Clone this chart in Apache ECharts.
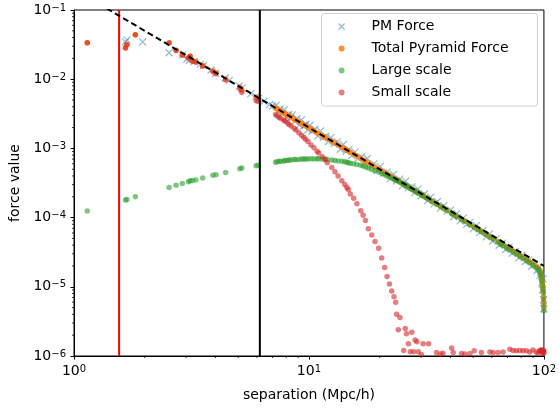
<!DOCTYPE html>
<html>
<head>
<meta charset="utf-8">
<script src="https://cdn.jsdelivr.net/npm/echarts@6/dist/echarts.min.js"></script>
<style>
  html, body { margin: 0; padding: 0; background: #fff; }
  #chart { width: 559px; height: 412px; }
</style>
</head>
<body>
<div id="chart"></div>
<script>
// Pair separations (Mpc/h) and the pyramid force split into large/small scale parts
const pyrSep = [
  1.139, 1.656, 1.68, 1.825, 2.54, 2.72, 2.89, 3.07, 3.12, 3.19,
  3.30, 3.53, 3.90, 4.02, 4.42, 5.08, 5.18, 5.96, 6.08,
  7.21, 7.33, 7.47, 7.6, 7.83, 7.9, 8.1, 8.22, 8.4, 8.65,
  8.8, 9.06, 9.3, 9.5, 9.68, 9.9, 10.2, 10.5, 10.83, 11.0,
  11.4, 11.7, 11.96, 12.5, 12.9, 13.3, 13.8, 14.2, 14.5, 14.7,
  15.0, 15.5, 16.0, 16.6, 17.0, 17.4, 17.9, 18.5, 19.1, 19.8,
  20.4, 21.0, 21.5, 22.0, 22.5, 23.0, 23.4, 23.6, 24.0, 24.4,
  25.0, 25.3, 25.7, 26.0, 26.5, 27.0, 27.4, 27.9, 28.3, 28.8,
  29.2, 30.1, 30.6, 31.5, 32.3, 33.5, 34.9, 36.3, 37.2, 38.5,
  40.5, 41.1, 42.5, 44.6, 46.1, 48.4, 50.5, 52.5, 54.2, 56.5,
  58.9, 60.8, 63.8, 65.5, 67.0, 69.5, 71.6, 73.9, 76.3, 78.9,
  81.5, 84.2, 87.0, 89.8, 92.8, 94.5, 95.9, 96.6, 97.4, 97.9,
  98.5, 98.9, 99.3, 99.6, 99.8, 99.95
];
const totalForce = [
  0.0336, 0.0285, 0.0317, 0.0440, 0.0336, 0.0263, 0.0224, 0.0205, 0.0216, 0.0184,
  0.0180, 0.0158, 0.0132, 0.0124, 0.0101, 0.0077, 0.0069, 0.0055, 0.0054,
  3.80e-3, 3.70e-3, 3.56e-3, 3.45e-3, 3.24e-3, 3.18e-3, 3.04e-3, 2.93e-3, 2.80e-3, 2.64e-3,
  2.55e-3, 2.42e-3, 2.29e-3, 2.20e-3, 2.11e-3, 2.02e-3, 1.90e-3, 1.80e-3, 1.69e-3, 1.63e-3,
  1.52e-3, 1.45e-3, 1.38e-3, 1.27e-3, 1.19e-3, 1.12e-3, 1.04e-3, 9.8e-4, 9.4e-4, 9.15e-4,
  8.8e-4, 8.2e-4, 7.7e-4, 7.15e-4, 6.8e-4, 6.5e-4, 6.15e-4, 5.75e-4, 5.4e-4, 5.0e-4,
  4.72e-4, 4.45e-4, 4.25e-4, 4.05e-4, 3.88e-4, 3.7e-4, 3.58e-4, 3.52e-4, 3.4e-4, 3.3e-4,
  3.13e-4, 3.05e-4, 2.96e-4, 2.89e-4, 2.78e-4, 2.68e-4, 2.6e-4, 2.5e-4, 2.44e-4, 2.35e-4,
  2.29e-4, 2.15e-4, 2.08e-4, 1.96e-4, 1.86e-4, 1.72e-4, 1.58e-4, 1.46e-4, 1.39e-4, 1.29e-4,
  1.16e-4, 1.12e-4, 1.05e-4, 9.5e-5, 8.9e-5, 8.0e-5, 7.35e-5, 6.8e-5, 6.35e-5, 5.8e-5,
  5.35e-5, 5.0e-5, 4.5e-5, 4.25e-5, 4.05e-5, 3.75e-5, 3.5e-5, 3.28e-5, 3.05e-5, 2.85e-5,
  2.65e-5, 2.48e-5, 2.3e-5, 2.15e-5, 1.98e-5, 1.88e-5, 1.75e-5, 1.6e-5, 1.45e-5, 1.3e-5,
  1.15e-5, 1.0e-5, 8.8e-6, 7.2e-6, 6.0e-6, 5.0e-6
];
const largeForce = [
  1.25e-4, 1.80e-4, 1.82e-4, 2.00e-4, 2.73e-4, 2.94e-4, 3.11e-4, 3.30e-4, 3.40e-4, 3.45e-4,
  3.50e-4, 3.75e-4, 4.10e-4, 4.15e-4, 4.50e-4, 5.10e-4, 5.20e-4, 5.60e-4, 5.70e-4,
  6.3e-4, 6.4e-4, 6.5e-4, 6.5e-4, 6.6e-4, 6.7e-4, 6.7e-4, 6.8e-4, 6.8e-4, 6.9e-4,
  6.9e-4, 6.9e-4, 7.0e-4, 7.0e-4, 7.0e-4, 7.0e-4, 7.1e-4, 7.0e-4, 7.1e-4, 7.1e-4,
  7.0e-4, 7.0e-4, 6.9e-4, 6.8e-4, 6.7e-4, 6.6e-4, 6.5e-4, 6.4e-4, 6.3e-4, 6.2e-4,
  6.1e-4, 6.0e-4, 5.85e-4, 5.7e-4, 5.55e-4, 5.4e-4, 5.2e-4, 4.95e-4, 4.75e-4, 4.55e-4,
  4.35e-4, 4.15e-4, 4.0e-4, 3.85e-4, 3.75e-4, 3.6e-4, 3.5e-4, 3.45e-4, 3.35e-4, 3.25e-4,
  3.1e-4, 3.02e-4, 2.93e-4, 2.86e-4, 2.76e-4, 2.66e-4, 2.57e-4, 2.48e-4, 2.42e-4, 2.33e-4,
  2.27e-4, 2.13e-4, 2.06e-4, 1.94e-4, 1.84e-4, 1.70e-4, 1.56e-4, 1.45e-4, 1.38e-4, 1.28e-4,
  1.15e-4, 1.11e-4, 1.04e-4, 9.4e-5, 8.8e-5, 7.9e-5, 7.25e-5, 6.7e-5, 6.25e-5, 5.7e-5,
  5.25e-5, 4.9e-5, 4.4e-5, 4.15e-5, 3.95e-5, 3.65e-5, 3.42e-5, 3.2e-5, 2.98e-5, 2.78e-5,
  2.58e-5, 2.4e-5, 2.22e-5, 2.07e-5, 1.9e-5, 1.8e-5, 1.68e-5, 1.52e-5, 1.38e-5, 1.22e-5,
  1.08e-5, 9.4e-6, 8.2e-6, 6.6e-6, 5.4e-6, 4.5e-6
];
const smallForce = [
  0.0335, 0.0283, 0.0315, 0.0438, 0.0333, 0.0260, 0.0221, 0.0202, 0.0213, 0.0181,
  0.0176, 0.0154, 0.0128, 0.0120, 0.0097, 0.0072, 0.0064, 0.0049, 0.0048,
  3.1e-3, 2.95e-3, 2.8e-3, 2.7e-3, 2.55e-3, 2.48e-3, 2.35e-3, 2.22e-3, 2.1e-3, 1.95e-3,
  1.85e-3, 1.68e-3, 1.55e-3, 1.45e-3, 1.36e-3, 1.26e-3, 1.12e-3, 1.02e-3, 9.1e-4, 8.6e-4,
  7.6e-4, 6.9e-4, 6.2e-4, 5.3e-4, 4.6e-4, 4.0e-4, 3.4e-4, 3.0e-4, 2.73e-4, 2.55e-4,
  2.2e-4, 1.9e-4, 1.58e-4, 1.26e-4, 1.08e-4, 9.1e-5, 6.9e-5, 5.6e-5, 4.5e-5, 3.6e-5,
  2.6e-5, 1.9e-5, 1.41e-5, 1.1e-5, 8.7e-6, 7.2e-6, 6.0e-6, 4.0e-6, 2.4e-6, 3.6e-6,
  8e-7, 1.2e-6, 2.5e-6, 2.1e-6, 1.5e-6, 1.15e-6, 2.2e-6, 1.15e-6, 1.7e-6, 1.6e-6,
  1.15e-6, 1.05e-6, 1.5e-6, 7e-7, 1.5e-6, 9e-7, 1.12e-6, 1.07e-6, 1.1e-6, 8e-7,
  1.3e-6, 1.12e-6, 9e-7, 1.09e-6, 1.07e-6, 1.09e-6, 1.19e-6, 9e-7, 1.12e-6, 8e-7,
  1.14e-6, 1.12e-6, 1.12e-6, 9e-7, 1.14e-6, 9e-7, 1.25e-6, 1.2e-6, 1.19e-6, 1.2e-6,
  1.19e-6, 1.19e-6, 1.14e-6, 1.22e-6, 1.14e-6, 1.1e-6, 1.19e-6, 1.2e-6, 1.23e-6, 1.15e-6,
  1.2e-6, 1.1e-6, 1.18e-6, 1.15e-6, 1.2e-6, 1.1e-6
];

// Particle-mesh reference force
const pmSep = [
  1.656, 1.68, 1.96, 2.54, 2.90, 3.02, 3.10, 3.25, 3.45, 3.55,
  3.83, 4.01, 4.40, 4.58, 5.05, 5.20, 5.66, 5.95, 6.10, 6.44,
  6.80, 7.0,
  7.25, 7.4, 7.55, 7.7, 7.85, 8.0, 8.2, 8.35, 8.5, 8.7,
  8.9, 9.1, 9.3, 9.5, 9.7, 9.9, 10.1, 10.3, 10.6, 10.9,
  11.2, 11.5, 11.8, 12.1, 12.4, 12.8, 13.2, 13.6, 14.0, 14.4,
  14.8, 15.2, 15.7, 16.2, 16.7, 17.2, 17.7, 18.3, 18.9, 19.5,
  20.1, 20.8, 21.5, 22.2, 22.9, 23.6, 24.3, 25.0, 25.8, 26.6,
  27.4, 28.2, 29.1, 30.0, 31.0, 32.0, 33.0, 34.1, 35.2, 36.3,
  37.5, 38.7, 40.0, 41.3, 42.6, 44.0, 45.4, 46.9, 48.4, 50.0,
  51.6, 53.3, 55.0, 56.8, 58.6, 60.5, 62.5, 64.5, 66.6, 68.8,
  71.0, 73.3, 75.7, 78.1, 80.6, 83.2, 85.9, 88.7, 91.5, 93.5,
  95.0, 96.2, 97.2, 98.0, 98.7, 99.2, 99.6, 99.9
];
const pmForce = [
  0.0347, 0.0370, 0.0347, 0.0241, 0.0225, 0.0194, 0.0188, 0.0180, 0.0165, 0.0158,
  0.0136, 0.0121, 0.0104, 0.0096, 0.0080, 0.0075, 0.0062, 0.0056, 0.0053, 0.0048,
  0.0043, 0.0041,
  4.19e-3, 3.36e-3, 3.72e-3, 3.20e-3, 3.64e-3, 2.81e-3, 3.09e-3, 2.75e-3, 3.05e-3, 2.46e-3,
  2.70e-3, 2.17e-3, 2.59e-3, 2.11e-3, 2.23e-3, 1.86e-3, 2.16e-3, 1.77e-3, 1.89e-3, 1.52e-3,
  1.79e-3, 1.44e-3, 1.49e-3, 1.26e-3, 1.43e-3, 1.17e-3, 1.24e-3, 9.73e-4, 1.14e-3, 9.07e-4,
  9.68e-4, 7.88e-4, 8.93e-4, 7.24e-4, 7.53e-4, 6.08e-4, 7.15e-4, 5.55e-4, 5.99e-4, 4.84e-4,
  5.45e-4, 4.39e-4, 4.54e-4, 3.65e-4, 4.20e-4, 3.38e-4, 3.59e-4, 2.88e-4, 3.37e-4, 2.69e-4,
  2.77e-4, 2.29e-4, 2.60e-4, 2.07e-4, 2.19e-4, 1.76e-4, 1.98e-4, 1.58e-4, 1.71e-4, 1.37e-4,
  1.49e-4, 1.24e-4, 1.28e-4, 1.03e-4, 1.15e-4, 8.99e-5, 9.90e-5, 8.00e-5, 8.54e-5, 6.88e-5,
  7.66e-5, 6.12e-5, 6.48e-5, 5.27e-5, 5.82e-5, 4.59e-5, 4.92e-5, 3.99e-5, 4.28e-5, 3.46e-5,
  3.73e-5, 3.05e-5, 3.25e-5, 2.62e-5, 2.83e-5, 2.31e-5, 2.44e-5, 1.98e-5, 2.10e-5, 1.72e-5,
  1.88e-5, 1.45e-5, 1.6e-5, 1.15e-5, 9.0e-6, 1.3e-5, 6.5e-6, 4.8e-6
];

// Inverse-square guide: force = 0.2 / r^2, drawn between its end points
const guideSep = [1, 100];
const guideForce = [0.2, 2e-5];

// Softening length and long/short range split radius
const softeningSep = 1.556;
const splitSep = 6.18;

const X_RANGE = [1, 100];
const Y_RANGE = [1e-6, 1e-1];
const MINOR_MANTISSAS = [2, 3, 4, 5, 6, 7, 8, 9];
const X_DECADES = [1, 10];
const Y_DECADES = [1e-6, 1e-5, 1e-4, 1e-3, 1e-2];

const FONT = 'DejaVu Sans';
const crossSymbol = 'path://M0,0L10,10M10,0L0,10';

function pairs(xs, ys) { return xs.map(function (x, i) { return [x, ys[i]]; }); }
function minorTicks(decades) {
  const out = [];
  decades.forEach(function (d) { MINOR_MANTISSAS.forEach(function (m) { out.push(m * d); }); });
  return out;
}
const xMinor = minorTicks(X_DECADES);
const yMinor = minorTicks(Y_DECADES);

function powerLabel(v) {
  const e = Math.round(Math.log10(v));
  const exp = e < 0 ? '\u2212' + (-e) : String(e);
  return '{b|10}{s|' + exp + '}';
}
const labelRich = {
  b: { fontFamily: FONT, fontSize: 14, color: '#000', lineHeight: 14, padding: [3, 0, 0, 0], verticalAlign: 'bottom' },
  s: { fontFamily: FONT, fontSize: 10, color: '#000', lineHeight: 10, verticalAlign: 'top' }
};

const chart = echarts.init(document.getElementById('chart'), null, { renderer: 'canvas' });

chart.setOption({
  animation: false,
  backgroundColor: '#fff',
  grid: {
    left: 74, right: 13, top: 5, bottom: 56,
    show: true, borderColor: '#000', borderWidth: 1, backgroundColor: 'transparent'
  },
  xAxis: {
    type: 'log', logBase: 10, min: X_RANGE[0], max: X_RANGE[1], interval: 1,
    name: 'separation (Mpc/h)', nameLocation: 'middle', nameGap: 32,
    nameTextStyle: { fontFamily: FONT, fontSize: 14, color: '#000' },
    axisLine: { show: true, onZero: false, lineStyle: { color: '#000', width: 1 } },
    axisTick: { show: true, inside: false, length: 3.5, lineStyle: { color: '#000', width: 1 } },
    axisLabel: { margin: 8, formatter: powerLabel, rich: labelRich },
    splitLine: { show: false }
  },
  yAxis: {
    type: 'log', logBase: 10, min: Y_RANGE[0], max: Y_RANGE[1], interval: 1,
    name: 'force value', nameLocation: 'middle', nameGap: 52,
    nameTextStyle: { fontFamily: FONT, fontSize: 14, color: '#000' },
    axisLine: { show: true, onZero: false, lineStyle: { color: '#000', width: 1 } },
    axisTick: { show: true, inside: false, length: 3.5, lineStyle: { color: '#000', width: 1 } },
    axisLabel: { margin: 8, formatter: powerLabel, rich: labelRich },
    splitLine: { show: false }
  },
  legend: {
    data: [
      { name: 'PM Force', icon: crossSymbol, itemStyle: { borderWidth: 1.2 } },
      { name: 'Total Pyramid Force', icon: 'circle' },
      { name: 'Large scale', icon: 'circle' },
      { name: 'Small scale', icon: 'circle' }
    ],
    orient: 'vertical', left: 338, top: 19.5,
    itemWidth: 50, itemHeight: 6, itemGap: 8, padding: 0,
    symbolKeepAspect: true, selectedMode: false,
    textStyle: { fontFamily: FONT, fontSize: 14, color: '#000', lineHeight: 14 }
  },
  graphic: {
    elements: [{
      type: 'rect', z: 3, silent: true,
      shape: { x: 321.5, y: 13.5, width: 216, height: 92.5, r: 3 },
      style: { fill: 'rgba(255,255,255,0.8)', stroke: '#d0d0d0', lineWidth: 1 }
    }]
  },
  series: [
    {
      type: 'line', silent: true, symbol: 'none', clip: true,
      data: [[softeningSep, Y_RANGE[0]], [softeningSep, Y_RANGE[1]]],
      lineStyle: { color: '#ff0000', width: 2 }
    },
    {
      type: 'line', silent: true, symbol: 'none', clip: true,
      data: [[splitSep, Y_RANGE[0]], [splitSep, Y_RANGE[1]]],
      lineStyle: { color: '#000', width: 2 }
    },
    {
      name: 'PM Force', type: 'scatter', clip: true,
      symbol: crossSymbol, symbolSize: 7, symbolKeepAspect: true,
      data: pairs(pmSep, pmForce),
      itemStyle: { color: '#1f77b4', borderColor: '#1f77b4', borderWidth: 1.2, opacity: 0.5 }
    },
    {
      type: 'line', silent: true, symbol: 'none', clip: true,
      data: pairs(guideSep, guideForce),
      lineStyle: { color: '#000', width: 2, type: [6, 3.5] }
    },
    {
      name: 'Total Pyramid Force', type: 'scatter', clip: true,
      symbol: 'circle', symbolSize: 5.5,
      data: pairs(pyrSep, totalForce),
      itemStyle: { color: '#ff7f0e', opacity: 0.85 }
    },
    {
      name: 'Large scale', type: 'scatter', clip: true,
      symbol: 'circle', symbolSize: 5.5,
      data: pairs(pyrSep, largeForce),
      itemStyle: { color: '#2ca02c', opacity: 0.6 }
    },
    {
      name: 'Small scale', type: 'scatter', clip: true,
      symbol: 'circle', symbolSize: 5.5,
      data: pairs(pyrSep, smallForce),
      itemStyle: { color: '#d62728', opacity: 0.6 }
    },
    {
      // minor ticks of both log axes
      type: 'custom', silent: true, clip: false, z: 5,
      data: [[X_RANGE[0], Y_RANGE[0]]],
      renderItem: function (params, api) {
        const children = [];
        xMinor.forEach(function (v) {
          const p = api.coord([v, Y_RANGE[0]]);
          children.push({ type: 'line', shape: { x1: p[0], y1: p[1], x2: p[0], y2: p[1] + 2 }, style: { stroke: '#000', lineWidth: 0.8 } });
        });
        yMinor.forEach(function (v) {
          const p = api.coord([X_RANGE[0], v]);
          children.push({ type: 'line', shape: { x1: p[0] - 2, y1: p[1], x2: p[0], y2: p[1] }, style: { stroke: '#000', lineWidth: 0.8 } });
        });
        return { type: 'group', children: children };
      }
    }
  ]
});
</script>
</body>
</html>
